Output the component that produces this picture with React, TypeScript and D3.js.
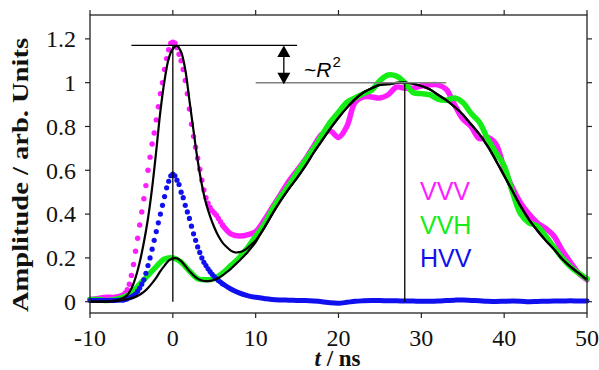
import { useRef, useEffect } from 'react';
import * as d3 from 'd3';

// sampling grids (ns)
const T_FINE = d3.range(-6, 6.001, 0.25);
const T_COARSE = d3.range(-10, 50.001, 1);
const T_FIT_PEAK = d3.range(-10, 10.501, 0.5);
const T_FIT_BROAD = d3.range(11, 50.001, 1);

// measured signals, fine grid around the prompt peak (dotted)
const VVV_FINE = [
  0.03, 0.04, 0.055, 0.08, 0.12, 0.17, 0.23, 0.29, 0.35, 0.41, 0.47, 0.53, 0.6, 0.66, 0.72, 0.77,
  0.83, 0.89, 0.95, 1.0, 1.06, 1.11, 1.15, 1.18, 1.185, 1.18, 1.16, 1.13, 1.1, 1.06, 1.01, 0.95,
  0.88, 0.81, 0.755, 0.705, 0.655, 0.605, 0.555, 0.51, 0.475, 0.45, 0.43, 0.415, 0.405, 0.395,
  0.38, 0.365, 0.35,
];
const HVV_FINE = [
  0.008, 0.01, 0.013, 0.018, 0.022, 0.028, 0.035, 0.048, 0.062, 0.08, 0.1, 0.13, 0.165, 0.2, 0.24,
  0.28, 0.32, 0.36, 0.4, 0.44, 0.48, 0.52, 0.55, 0.575, 0.583, 0.575, 0.555, 0.535, 0.5, 0.475,
  0.44, 0.41, 0.38, 0.345, 0.31, 0.28, 0.25, 0.225, 0.2, 0.18, 0.165, 0.15, 0.137, 0.125, 0.115,
  0.105, 0.097, 0.09, 0.082,
];

// measured signals, 1 ns grid
const VVV_COARSE = [
  0.01, 0.015, 0.02, 0.02, 0.03, 0.12, 0.35, 0.6, 0.83, 1.06,
  1.185, 1.1, 0.88, 0.655, 0.475, 0.405, 0.35, 0.31, 0.3, 0.305,
  0.32, 0.37, 0.43, 0.49, 0.55, 0.6, 0.65, 0.71, 0.765, 0.78,
  0.75, 0.8, 0.91, 0.935, 0.935, 0.93, 0.945, 0.98, 0.975, 0.975,
  0.985, 0.99, 0.99, 0.97, 0.9, 0.835, 0.8, 0.745, 0.75, 0.72,
  0.61, 0.52, 0.45, 0.4, 0.36, 0.335, 0.3, 0.235, 0.18, 0.13,
  0.1,
];
const VVH_COARSE = [
  0.01, 0.01, 0.005, 0.01, 0.02, 0.04, 0.08, 0.12, 0.16, 0.195,
  0.2, 0.18, 0.14, 0.105, 0.1, 0.105, 0.13, 0.165, 0.2, 0.245,
  0.3, 0.35, 0.42, 0.48, 0.53, 0.59, 0.645, 0.7, 0.76, 0.82,
  0.865, 0.91, 0.93, 0.95, 0.965, 1.01, 1.035, 1.03, 1.0, 0.955,
  0.95, 0.945, 0.925, 0.92, 0.93, 0.91, 0.86, 0.82, 0.745, 0.68,
  0.62, 0.5, 0.4, 0.36, 0.345, 0.3, 0.25, 0.2, 0.16, 0.13,
  0.105,
];
const HVV_COARSE = [
  0.005, 0.005, 0.005, 0.006, 0.008, 0.022, 0.062, 0.165, 0.32, 0.48,
  0.583, 0.5, 0.38, 0.25, 0.165, 0.115, 0.082, 0.058, 0.04, 0.028,
  0.02, 0.015, 0.01, 0.008, 0.007, 0.006, 0.005, 0.003, 0, -0.005,
  -0.007, -0.003, 0.002, 0.004, 0.005, 0.005, 0.004, 0.004, 0.003, 0.003,
  0.002, 0.002, 0.003, 0.005, 0.007, 0.008, 0.006, 0.004, 0.002, 0.001,
  0.002, 0.003, 0.002, 0, 0.001, 0.002, 0.003, 0.003, 0.004, 0.003,
  0.003,
];

// model fits
const FIT_VVV_PEAK = [
  0, 0, 0, 0, 0.001, 0.002, 0.005, 0.01, 0.018, 0.03, 0.06, 0.11, 0.18, 0.27, 0.38, 0.52, 0.69,
  0.87, 1.01, 1.11, 1.155, 1.168, 1.14, 1.06, 0.92, 0.78, 0.645, 0.535, 0.45, 0.39, 0.34, 0.3,
  0.27, 0.25, 0.233, 0.225, 0.226, 0.233, 0.245, 0.262, 0.28, 0.305,
];
const FIT_VVH_PEAK = [
  0, 0, 0, 0, 0, 0.001, 0.003, 0.005, 0.008, 0.012, 0.016, 0.022, 0.032, 0.045, 0.063, 0.085, 0.11,
  0.14, 0.165, 0.188, 0.198, 0.198, 0.185, 0.163, 0.14, 0.12, 0.105, 0.097, 0.094, 0.095, 0.1,
  0.108, 0.12, 0.135, 0.15, 0.168, 0.186, 0.205, 0.225, 0.248, 0.272, 0.305,
];
const FIT_BROAD = [
  0.335, 0.4, 0.46, 0.515, 0.565, 0.62, 0.68, 0.735, 0.79, 0.84,
  0.885, 0.925, 0.955, 0.975, 0.99, 0.993, 0.999, 1.0, 0.995, 0.985,
  0.97, 0.945, 0.92, 0.89, 0.855, 0.81, 0.765, 0.71, 0.645, 0.575,
  0.505, 0.435, 0.375, 0.325, 0.28, 0.24, 0.195, 0.16, 0.13, 0.1,
];

const X_TICKS = [-10, 0, 10, 20, 30, 40, 50];
const Y_TICKS = [0, 0.2, 0.4, 0.6, 0.8, 1, 1.2];

const LEGEND = [
  { label: 'VVV', color: '#ff1cff' },
  { label: 'VVH', color: '#14ee14' },
  { label: 'HVV', color: '#1010ee' },
];

const W = 599;
const H = 370;
const SERIF = '"Liberation Serif", "Times New Roman", serif';
const SANS = '"Liberation Sans", Arial, sans-serif';

export default function App() {
  const svgRef = useRef<SVGSVGElement>(null);

  useEffect(() => {
    document.body.style.margin = '0';
    const svg = d3.select(svgRef.current);
    svg.selectAll('*').remove();

    const x = d3.scaleLinear().domain([-10, 50]).range([90, 587]);
    const y = d3.scaleLinear().domain([-0.0516, 1.309]).range([313, 15]);
    const [x0, x1] = x.range();
    const [y0, y1] = y.range();

    const pts = (t: number[], v: number[]) => t.map((tt, i) => [tt, v[i]] as [number, number]);
    const line = d3
      .line<[number, number]>()
      .x(d => x(d[0]))
      .y(d => y(d[1]))
      .curve(d3.curveCatmullRom);

    const coarse = (v: number[]) => pts(T_COARSE, v);
    const left = (v: number[]) => coarse(v).filter(d => d[0] <= -6);
    const right = (v: number[]) => coarse(v).filter(d => d[0] >= 6);

    const [cVVV, cVVH, cHVV] = LEGEND.map(l => l.color);

    // VVV: thick tails + dotted peak
    [left(VVV_COARSE), right(VVV_COARSE)].forEach(seg => {
      svg.append('path').attr('d', line(seg)).attr('fill', 'none')
        .attr('stroke', cVVV).attr('stroke-width', 5.5).attr('stroke-linecap', 'round');
    });
    svg.append('g').selectAll('circle').data(pts(T_FINE, VVV_FINE)).join('circle')
      .attr('cx', d => x(d[0])).attr('cy', d => y(d[1])).attr('r', 2.7).attr('fill', cVVV);

    // VVH: continuous thick line
    svg.append('path').attr('d', line(coarse(VVH_COARSE))).attr('fill', 'none')
      .attr('stroke', cVVH).attr('stroke-width', 5.5).attr('stroke-linecap', 'round')
      .attr('stroke-linejoin', 'round');

    // HVV
    [left(HVV_COARSE), right(HVV_COARSE)].forEach(seg => {
      svg.append('path').attr('d', line(seg)).attr('fill', 'none')
        .attr('stroke', cHVV).attr('stroke-width', 5).attr('stroke-linecap', 'round');
    });
    svg.append('g').selectAll('circle').data(pts(T_FINE, HVV_FINE)).join('circle')
      .attr('cx', d => x(d[0])).attr('cy', d => y(d[1])).attr('r', 2.6).attr('fill', cHVV);

    // fits
    const broad = pts(T_FIT_BROAD, FIT_BROAD);
    [FIT_VVV_PEAK, FIT_VVH_PEAK].forEach(f => {
      svg.append('path').attr('d', line([...pts(T_FIT_PEAK, f), ...broad])).attr('fill', 'none')
        .attr('stroke', '#000').attr('stroke-width', 2.2);
    });

    // annotations
    const ann = svg.append('g').attr('stroke-width', 1.3).attr('fill', 'none');
    ann.append('line').attr('x1', x(0)).attr('x2', x(0)).attr('y1', y(0)).attr('y2', y(1.17)).attr('stroke', '#000');
    ann.append('line').attr('x1', x(28)).attr('x2', x(28)).attr('y1', y(0)).attr('y2', y(1.0)).attr('stroke', '#000');
    ann.append('line').attr('x1', x(-5)).attr('x2', x(15)).attr('y1', y(1.17)).attr('y2', y(1.17)).attr('stroke', '#000');
    ann.append('line').attr('x1', x(10)).attr('x2', x(33)).attr('y1', y(1.0)).attr('y2', y(1.0))
      .attr('stroke', '#808080').attr('stroke-width', 1.6);

    const ax = x(13.4);
    const ta = y(1.17);
    const tb = y(1.0) + 1.5;
    svg.append('line').attr('x1', ax).attr('x2', ax).attr('y1', ta + 10).attr('y2', tb - 10)
      .attr('stroke', '#000').attr('stroke-width', 1.3);
    svg.append('path').attr('d', `M${ax},${ta}L${ax - 6.5},${ta + 11.5}L${ax + 6.5},${ta + 11.5}Z`).attr('fill', '#000');
    svg.append('path').attr('d', `M${ax},${tb}L${ax - 6.5},${tb - 11.5}L${ax + 6.5},${tb - 11.5}Z`).attr('fill', '#000');

    const r2 = svg.append('text').attr('x', 304).attr('y', 77).attr('font-family', SANS)
      .attr('font-size', 21).attr('fill', '#000');
    r2.append('tspan').text('~');
    r2.append('tspan').attr('font-style', 'italic').text('R');
    r2.append('tspan').attr('font-size', 15).attr('dy', -10).attr('dx', 1).text('2');

    // frame and ticks
    svg.append('rect').attr('x', x0).attr('y', y1).attr('width', x1 - x0).attr('height', y0 - y1)
      .attr('fill', 'none').attr('stroke', '#222').attr('stroke-width', 1.3);
    const tk = svg.append('g').attr('stroke', '#222').attr('stroke-width', 1.2);
    X_TICKS.forEach(t => {
      tk.append('line').attr('x1', x(t)).attr('x2', x(t)).attr('y1', y0).attr('y2', y0 + 5);
      tk.append('line').attr('x1', x(t)).attr('x2', x(t)).attr('y1', y1).attr('y2', y1 - 5);
      svg.append('text').attr('x', x(t)).attr('y', 346).attr('text-anchor', 'middle')
        .attr('font-family', SERIF).attr('font-size', 24).attr('fill', '#111').text(String(t));
    });
    Y_TICKS.forEach(v => {
      tk.append('line').attr('x1', x0).attr('x2', x0 - 5).attr('y1', y(v)).attr('y2', y(v));
      tk.append('line').attr('x1', x1).attr('x2', x1 + 5).attr('y1', y(v)).attr('y2', y(v));
      svg.append('text').attr('x', 76).attr('y', y(v)).attr('dy', '0.35em').attr('text-anchor', 'end')
        .attr('font-family', SERIF).attr('font-size', 24).attr('fill', '#111').text(String(+v.toFixed(1)));
    });

    // axis titles
    svg.append('text').attr('transform', `translate(28,${(y0 + y1) / 2 + 11}) rotate(-90)`)
      .attr('text-anchor', 'middle').attr('font-family', SERIF).attr('font-weight', 'bold')
      .attr('font-size', 24).attr('textLength', 274).attr('lengthAdjust', 'spacingAndGlyphs')
      .attr('fill', '#111').text('Amplitude / arb. Units');
    const xt = svg.append('text').attr('x', (x0 + x1) / 2 - 1).attr('y', 366).attr('text-anchor', 'middle')
      .attr('font-family', SERIF).attr('font-weight', 'bold').attr('font-size', 23).attr('fill', '#111');
    xt.append('tspan').attr('font-style', 'italic').text('t');
    xt.append('tspan').text(' / ns');

    // legend
    LEGEND.forEach((l, i) => {
      svg.append('text').attr('x', 420).attr('y', 200 + i * 33.5).attr('font-family', SANS)
        .attr('font-size', 25).attr('fill', l.color).text(l.label);
    });
  }, []);

  return (
    <svg ref={svgRef} width={W} height={H} style={{ position: 'absolute', left: 0, top: 0, background: '#fff' }} />
  );
}
